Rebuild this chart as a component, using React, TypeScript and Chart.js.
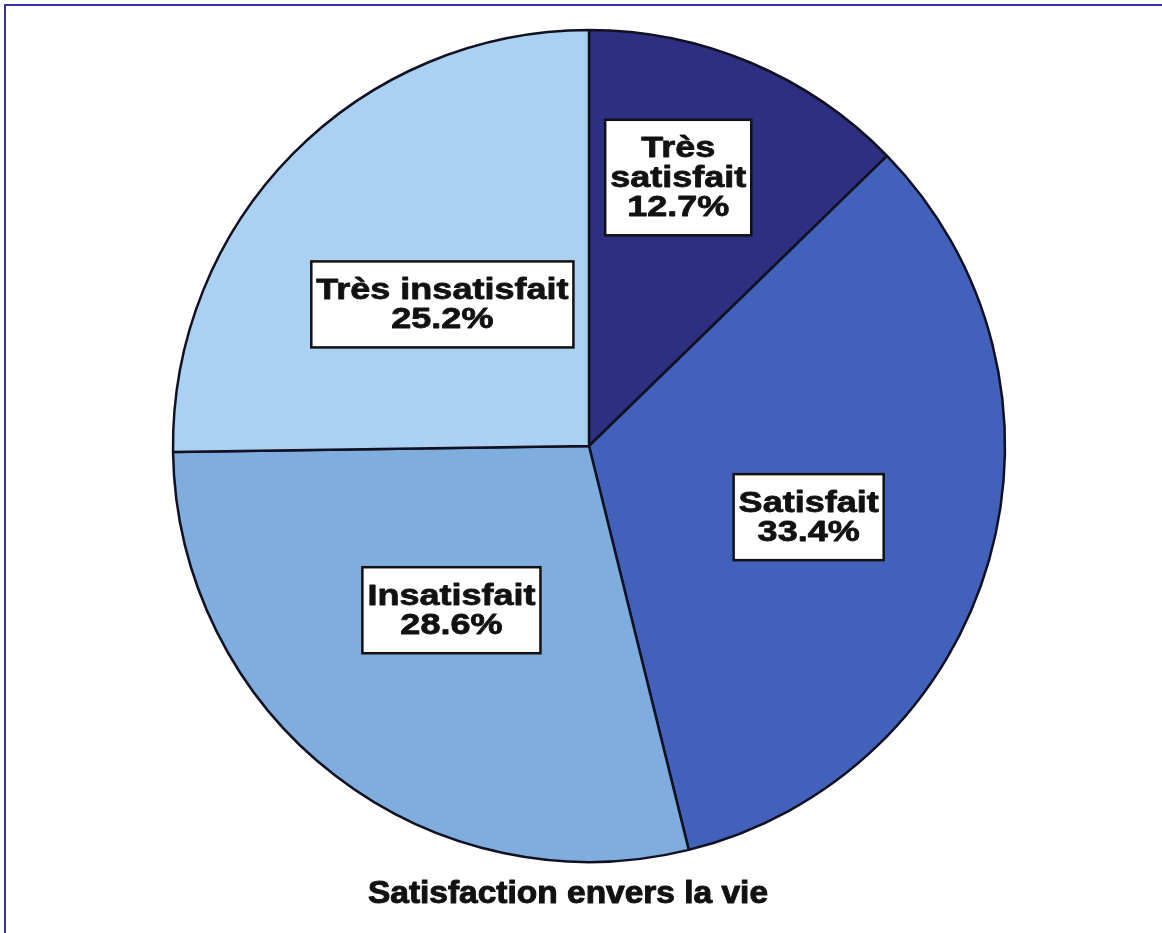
import React, { useEffect, useRef } from "react";
import { Chart, registerables } from "chart.js";

Chart.register(...registerables);

const categories = ["Très satisfait", "Satisfait", "Insatisfait", "Très insatisfait"];
const labelLines = [["Très", "satisfait"], ["Satisfait"], ["Insatisfait"], ["Très insatisfait"]];
const percentages = [12.7, 33.4, 28.6, 25.2];
const sliceColors = ["#2D2F80", "#4261BB", "#7EADDE", "#AAD0F2"];
const chartTitle = "Satisfaction envers la vie";

// label placement style: [radial fraction, angle offset in degrees]
const labelPlacement = [
  [0.68, -4.5],
  [0.555, 2],
  [0.515, 2.3],
  [0.49, -0.6],
];

const FONT = '"Liberation Sans", Arial, sans-serif';

function heavyText(ctx: any, text: string, x: number, y: number, sx: number, weight: number) {
  ctx.save();
  ctx.translate(x, y);
  ctx.scale(sx, 1);
  ctx.lineWidth = weight;
  ctx.lineJoin = "round";
  ctx.strokeText(text, 0, 0);
  ctx.fillText(text, 0, 0);
  ctx.restore();
}

const overlayPlugin = {
  id: "overlay",
  beforeDraw(chart: any) {
    const ctx = chart.ctx;
    ctx.save();
    ctx.fillStyle = "#ffffff";
    ctx.fillRect(0, 0, chart.width, chart.height);
    ctx.strokeStyle = "#3A2FAA";
    ctx.lineWidth = 2;
    ctx.beginPath();
    ctx.moveTo(5, chart.height);
    ctx.lineTo(5, 5);
    ctx.lineTo(chart.width, 5);
    ctx.stroke();
    ctx.restore();
  },
  afterDraw(chart: any) {
    const ctx = chart.ctx;
    const meta = chart.getDatasetMeta(0);
    const sx = 1.2;
    const lineH = 29.5;
    ctx.save();
    ctx.font = `bold 30px ${FONT}`;
    ctx.textAlign = "center";
    ctx.textBaseline = "middle";
    meta.data.forEach((arc: any, i: number) => {
      const p = arc.getProps(["x", "y", "startAngle", "endAngle", "outerRadius"], true);
      const [frac, offDeg] = labelPlacement[i];
      const mid = (p.startAngle + p.endAngle) / 2 + (offDeg * Math.PI) / 180;
      const cx = p.x + Math.cos(mid) * p.outerRadius * frac;
      const cy = p.y + Math.sin(mid) * p.outerRadius * frac;
      const lines = [...labelLines[i], percentages[i].toFixed(1) + "%"];
      let w = 0;
      lines.forEach((l) => (w = Math.max(w, ctx.measureText(l).width * sx)));
      const bw = w + 10;
      const bh = lines.length * lineH + 27;
      ctx.fillStyle = "#ffffff";
      ctx.fillRect(cx - bw / 2, cy - bh / 2, bw, bh);
      ctx.strokeStyle = "#111111";
      ctx.lineWidth = 2.5;
      ctx.strokeRect(cx - bw / 2, cy - bh / 2, bw, bh);
      ctx.fillStyle = "#111111";
      lines.forEach((l, k) => {
        const ty = cy - ((lines.length - 1) * lineH) / 2 + k * lineH + 1;
        heavyText(ctx, l, cx, ty, sx, 0.8);
      });
    });
    // title
    const area = chart.chartArea;
    ctx.font = `bold 31px ${FONT}`;
    ctx.fillStyle = "#111111";
    ctx.strokeStyle = "#111111";
    heavyText(ctx, chartTitle, (area.left + area.right) / 2 - 21, area.bottom + 2, 1.08, 1.0);
    ctx.restore();
  },
};

export default function App() {
  const ref = useRef<HTMLCanvasElement>(null);
  useEffect(() => {
    if (!ref.current) return;
    const chart = new Chart(ref.current, {
      type: "pie",
      data: {
        labels: categories,
        datasets: [
          {
            data: percentages,
            backgroundColor: sliceColors,
            borderColor: "#111122",
            borderWidth: 2.5,
          },
        ],
      },
      options: {
        animation: false,
        responsive: false,
        radius: 416,
        layout: { padding: { left: 16, right: 0, top: 0, bottom: 41 } },
        plugins: {
          legend: { display: false },
          tooltip: { enabled: false },
          title: { display: false },
        },
      } as any,
      plugins: [overlayPlugin],
    });
    return () => chart.destroy();
  }, []);
  return (
    <div style={{ position: "absolute", left: 0, top: 0, width: 1162, height: 933 }}>
      <canvas ref={ref} width={1162} height={933} style={{ display: "block" }} />
    </div>
  );
}
